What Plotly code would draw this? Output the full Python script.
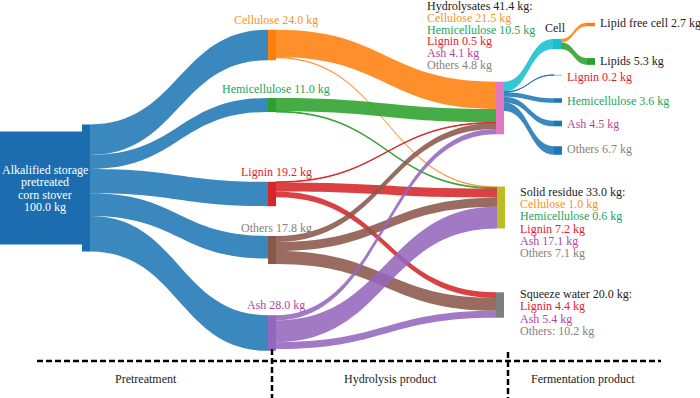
import plotly.graph_objects as go

W, H = 700, 398

# ---------------- data ----------------
node_names = ["Alkalified storage pretreated corn stover", "Cellulose", "Hemicellulose", "Lignin", "Others", "Ash",
              "Hydrolysates", "Solid residue", "Squeeze water", "Cell",
              "Lignin", "Hemicellulose", "Ash", "Others", "Lipid free cell", "Lipids"]
link_source = [0, 0, 0, 0, 0,
               1, 1, 2, 2, 3, 3, 3, 4, 4, 4, 5, 5, 5,
               6, 6, 6, 6, 6, 9, 9]
link_target = [1, 2, 3, 4, 5,
               6, 7, 6, 7, 6, 7, 8, 6, 7, 8, 6, 7, 8,
               9, 10, 11, 12, 13, 14, 15]
link_value = [24.0, 11.0, 19.2, 17.8, 28.0,
              21.5, 1.0, 10.5, 0.6, 0.5, 7.2, 4.4, 4.8, 7.1, 10.2, 4.1, 17.1, 5.4,
              8.0, 0.2, 3.6, 4.5, 6.7, 2.7, 5.3]

source_lines = ["Alkalified storage", "pretreated", "corn stover", "100.0 kg"]
component_labels = ["Cellulose 24.0 kg", "Hemicellulose 11.0 kg", "Lignin 19.2 kg", "Others 17.8 kg", "Ash 28.0 kg"]
hydro_lines = ["Hydrolysates 41.4 kg:", "Cellulose 21.5 kg", "Hemicellulose 10.5 kg", "Lignin 0.5 kg", "Ash 4.1 kg", "Others 4.8 kg"]
solid_lines = ["Solid residue 33.0 kg:", "Cellulose 1.0 kg", "Hemicellulose 0.6 kg", "Lignin 7.2 kg", "Ash 17.1 kg", "Others 7.1 kg"]
squeeze_lines = ["Squeeze water 20.0 kg:", "Lignin 4.4 kg", "Ash 5.4 kg", "Others: 10.2 kg"]
ferment_labels = ["Cell", "Lignin 0.2 kg", "Hemicellulose 3.6 kg", "Ash 4.5 kg", "Others 6.7 kg",
                  "Lipid free cell 2.7 kg", "Lipids 5.3 kg"]
stage_labels = ["Pretreatment", "Hydrolysis product", "Fermentation product"]

# ---------------- styles ----------------
C = dict(blue="#1f77b4", orange="#ff7f0e", green="#2ca02c", red="#d62728", purple="#9467bd",
         brown="#8c564b", pink="#e377c2", grey="#7f7f7f", olive="#bcbd22", cyan="#17becf")
SRC_BLUE = "#1b6db0"
node_colors = [SRC_BLUE, C["orange"], C["green"], C["red"], C["brown"], C["purple"],
               C["pink"], C["olive"], C["grey"], C["cyan"],
               C["blue"], C["blue"], C["blue"], C["blue"], C["orange"], C["green"]]


def rgba(hexc, a):
    h = hexc.lstrip("#")
    return "rgba(%d,%d,%d,%.2f)" % (int(h[0:2], 16), int(h[2:4], 16), int(h[4:6], 16), a)


link_base = {0: C["blue"], 1: C["orange"], 2: C["green"], 3: C["red"], 4: C["brown"], 5: C["purple"]}
link_colors = []
for s, t in zip(link_source, link_target):
    if s == 6:
        col = C["cyan"] if t == 9 else C["blue"]
    elif s == 9:
        col = C["orange"] if t == 14 else C["green"]
    else:
        col = link_base[s]
    link_colors.append(rgba(col, 0.88))

# node centre positions in pixels
node_px = [86, 272, 272, 272, 272, 272, 500, 501, 500, 557, 558, 558, 558, 558, 591, 591]
node_py = [188, 45, 105, 194, 250, 333, 108, 207.5, 305, 44, 75, 100.5, 123.5, 150.5, 24.5, 61.5]
PAD = 70.0
THICK = 8

fig = go.Figure(go.Sankey(
    arrangement="fixed",
    domain=dict(x=[0, 1], y=[0, 1]),
    node=dict(label=[""] * len(node_names), customdata=node_names,
              hovertemplate="%{customdata}: %{value:.1f} kg<extra></extra>",
              color=node_colors, pad=PAD, thickness=THICK,
              line=dict(width=0),
              x=[p / W for p in node_px], y=[p / H for p in node_py], align="left"),
    link=dict(source=link_source, target=link_target, value=link_value, color=link_colors),
))


def node_val(i):
    vin = sum(v for s, t, v in zip(link_source, link_target, link_value) if t == i)
    vout = sum(v for s, t, v in zip(link_source, link_target, link_value) if s == i)
    return max(vin, vout)


col1 = sum(node_val(i) for i in range(1, 6))
ky = (H - 4 * PAD) / col1
src_h = node_val(0) * ky

shapes = [dict(type="rect", xref="paper", yref="paper", x0=0, x1=(node_px[0] + THICK / 2) / W,
               y0=1 - (node_py[0] - src_h / 2) / H, y1=1 - (node_py[0] + src_h / 2) / H,
               fillcolor=SRC_BLUE, line=dict(width=0), layer="below")]
dash = dict(color="black", width=2.5, dash="6px,3px")
shapes.append(dict(type="line", xref="paper", yref="paper", x0=37 / W, x1=661 / W,
                   y0=1 - 361 / H, y1=1 - 361 / H, line=dash))
for xv, ytop in [(272, 349), (508, 352)]:
    shapes.append(dict(type="line", xref="paper", yref="paper", x0=xv / W, x1=xv / W,
                       y0=1 - ytop / H, y1=0, line=dash))

FONT = "Liberation Serif"
TXT = dict(orange="#f7941d", green="#22a55b", red="#e8192c", ash="#b2479b", others="#8c8079", black="#222222")
comp_col = [TXT["orange"], TXT["green"], TXT["red"], TXT["others"], TXT["ash"]]
ann = []


def add(text, px, py, color, xanchor="left", size=12):
    ann.append(dict(text=text, x=px / W, y=1 - py / H, xref="paper", yref="paper", xanchor=xanchor,
                    yanchor="middle", showarrow=False, font=dict(family=FONT, size=size, color=color)))


for i, line in enumerate(source_lines):
    add(line, 45, 170 + i * 12.3, "white", "center")
comp_y = [20, 89, 172, 228, 305]
for lab, yv, col in zip(component_labels, comp_y, comp_col):
    add(lab, 276, yv, col, "center")

block_cols = [TXT["black"], TXT["orange"], TXT["green"], TXT["red"], TXT["ash"], TXT["others"]]
for i, line in enumerate(hydro_lines):
    add(line, 425, 6 + i * 11.8, block_cols[i])
for i, line in enumerate(solid_lines):
    add(line, 518, 192 + i * 12.2, block_cols[i])
sq_cols = [TXT["black"], TXT["red"], TXT["ash"], TXT["others"]]
for i, line in enumerate(squeeze_lines):
    add(line, 518, 294 + i * 12.3, sq_cols[i])

f_pos = [(543, 28), (565, 77), (565, 101), (565, 124), (565, 149), (598, 23), (598, 61)]
f_col = [TXT["black"], TXT["red"], TXT["green"], TXT["ash"], TXT["others"], TXT["black"], TXT["black"]]
for lab, (xv, yv), col in zip(ferment_labels, f_pos, f_col):
    add(lab, xv, yv, col)

for lab, xv in zip(stage_labels, [146, 390, 583]):
    add(lab, xv, 379, TXT["black"], "center")

fig.update_layout(width=W, height=H, margin=dict(l=0, r=0, t=0, b=0),
                  paper_bgcolor="white", plot_bgcolor="white",
                  shapes=shapes, annotations=ann, font=dict(family=FONT))
fig.write_html("out.html", config={"displayModeBar": False},
               post_script="document.body.style.margin='0';document.body.style.padding='0';")
